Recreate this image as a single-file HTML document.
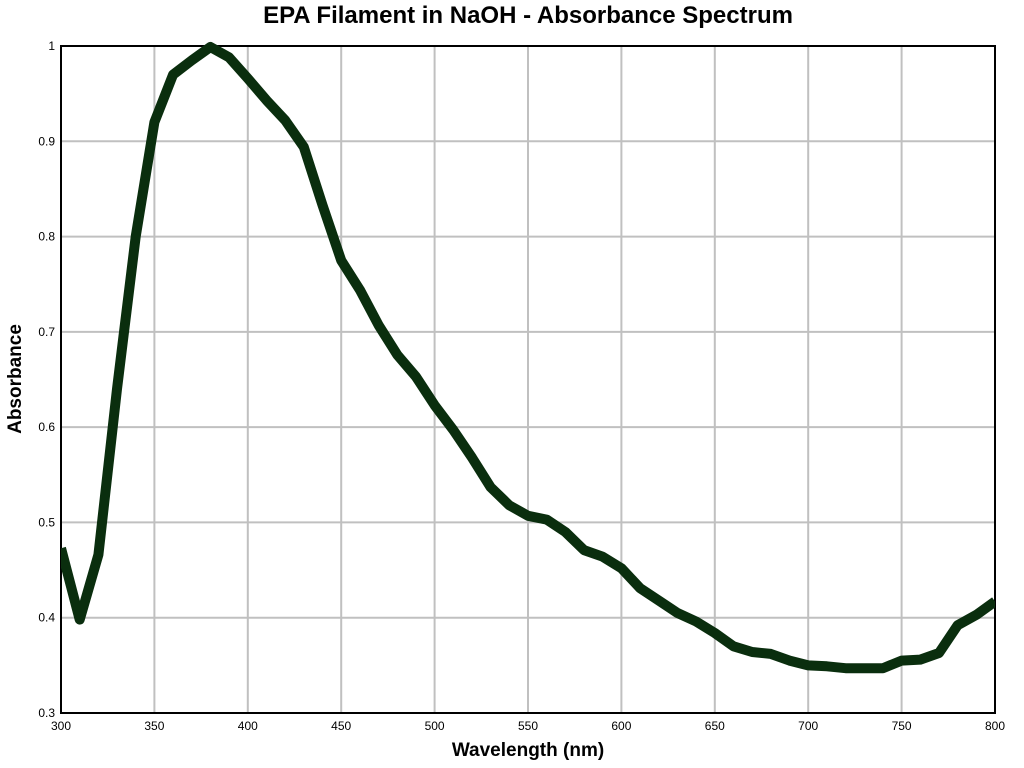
<!DOCTYPE html>
<html><head><meta charset="utf-8"><style>
html,body{margin:0;padding:0;background:#fff;}
svg{display:block;font-family:"Liberation Sans",sans-serif;}
</style></head><body>
<svg id="chart" width="1024" height="768" viewBox="0 0 1024 768"></svg>
<script>
const wavelengths = [300,310,320,330,340,350,360,370,380,390,400,410,420,430,440,450,460,470,480,490,500,510,520,530,540,550,560,570,580,590,600,610,620,630,640,650,660,670,680,690,700,710,720,730,740,750,760,770,780,790,800];
const absorbance = [0.473,0.398,0.466,0.64,0.80,0.92,0.97,0.985,0.999,0.988,0.966,0.943,0.922,0.894,0.833,0.775,0.744,0.707,0.676,0.653,0.623,0.597,0.568,0.537,0.518,0.507,0.503,0.490,0.471,0.464,0.452,0.431,0.418,0.405,0.396,0.384,0.370,0.364,0.362,0.355,0.350,0.349,0.347,0.347,0.347,0.355,0.356,0.363,0.392,0.403,0.417];
const xTicks = [300,350,400,450,500,550,600,650,700,750,800];
const yTicks = [0.3,0.4,0.5,0.6,0.7,0.8,0.9,1];
const yTickLabels = ["0.3","0.4","0.5","0.6","0.7","0.8","0.9","1"];

const L=61,R=995,T=46,B=713;
const xs=v=>L+(v-300)/(800-300)*(R-L);
const ys=v=>B-(v-0.3)/(1-0.3)*(B-T);
const svg=document.getElementById('chart');
const NS='http://www.w3.org/2000/svg';
function mk(tag,attrs,parent){const e=document.createElementNS(NS,tag);for(const k in attrs)e.setAttribute(k,attrs[k]);(parent||svg).appendChild(e);return e;}

xTicks.forEach(t=>{
  const g=mk('line',{x1:xs(t),x2:xs(t),y1:T,y2:B,stroke:'#c0c0c0','stroke-width':2});
  
  
  const tx=mk('text',{x:xs(t),y:B+17,'text-anchor':'middle','font-size':12,fill:'#000'});
  tx.textContent=t;
  
  
});
yTicks.forEach((t,i)=>{
  const g=mk('line',{x1:L,x2:R,y1:ys(t),y2:ys(t),stroke:'#c0c0c0','stroke-width':2});
  
  
  const tx=mk('text',{x:L-6,y:ys(t)+4,'text-anchor':'end','font-size':12,fill:'#000'});
  tx.textContent=yTickLabels[i];
  
  
});
const frame=mk('rect',{x:L,y:T,width:R-L,height:B-T,fill:'none',stroke:'#000','stroke-width':2});



const cp=mk('clipPath',{id:'clip'});
mk('rect',{x:L,y:T-6,width:R-L,height:B-T+12},cp);
const d=wavelengths.map((w,i)=>(i?'L':'M')+xs(w).toFixed(1)+','+ys(absorbance[i]).toFixed(1)).join(' ');
const line=mk('path',{d:d,fill:'none',stroke:'#0a2e0e','stroke-width':10,'stroke-linejoin':'round','clip-path':'url(#clip)'});



const title=mk('text',{x:528,y:23,'text-anchor':'middle','font-size':24,'font-weight':'bold',fill:'#000'});
title.textContent='EPA Filament in NaOH - Absorbance Spectrum';


const xt=mk('text',{x:528,y:756,'text-anchor':'middle','font-size':19,'font-weight':'bold',fill:'#000'});
xt.textContent='Wavelength (nm)';


const yt=mk('text',{x:0,y:0,'text-anchor':'middle','font-size':19,'font-weight':'bold',fill:'#000',transform:'translate(21,379) rotate(-90)'});
yt.textContent='Absorbance';


</script>
</body></html>
